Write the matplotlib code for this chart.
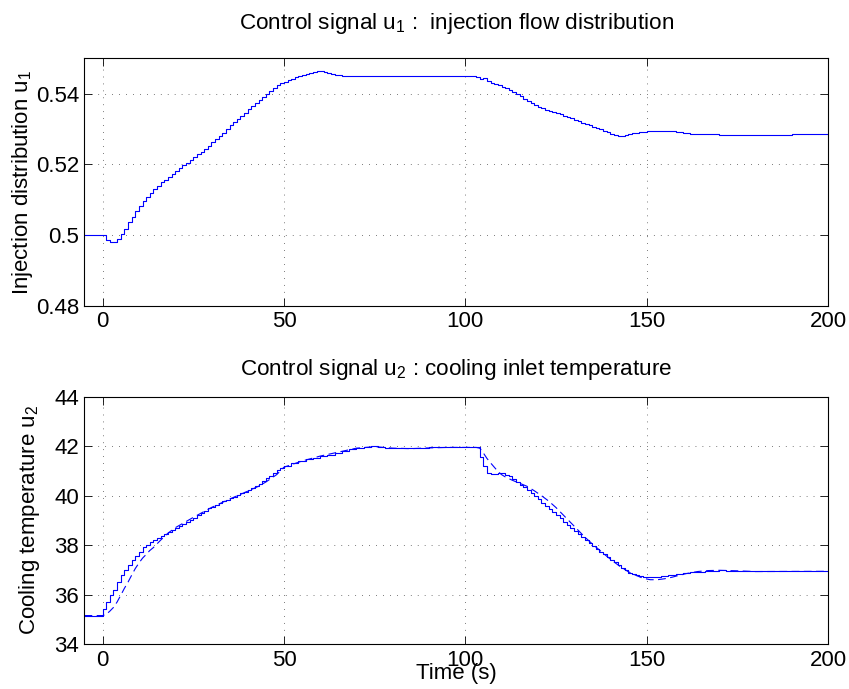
import numpy as np
import matplotlib
matplotlib.use("Agg")
import matplotlib.pyplot as plt
from matplotlib.ticker import FormatStrFormatter

plt.rcParams['font.family'] = ['Liberation Sans', 'DejaVu Sans']
plt.rcParams['mathtext.fontset'] = 'custom'
plt.rcParams['mathtext.rm'] = 'Liberation Sans'
plt.rcParams['mathtext.it'] = 'Liberation Sans:italic'

# ---- u1 : injection flow distribution (sampled every 1 s where it moves) ----
t_u1 = ([-5] + list(range(0, 67)) + [68, 70, 75, 80, 85, 90, 95, 100, 102]
        + list(range(103, 149))
        + [150, 152, 155, 158, 160, 162, 165, 170, 180, 190, 200])
u1 = [0.5000,
      # 0 .. 66
      0.5000, 0.4985, 0.4979, 0.4980, 0.4990, 0.5002, 0.5017, 0.5036, 0.5050, 0.5067,
      0.5082, 0.5097, 0.5108, 0.5120, 0.5131, 0.5140, 0.5149, 0.5157, 0.5165, 0.5173,
      0.5180, 0.5189, 0.5197, 0.5204, 0.5212, 0.5220, 0.5228, 0.5236, 0.5244, 0.5252,
      0.5262, 0.5272, 0.5281, 0.5290, 0.5299, 0.5310, 0.5319, 0.5328, 0.5337, 0.5346,
      0.5356, 0.5365, 0.5373, 0.5382, 0.5390, 0.5399, 0.5408, 0.5416, 0.5424, 0.5429,
      0.5434, 0.5438, 0.5442, 0.5446, 0.5449, 0.5453, 0.5456, 0.5459, 0.5461, 0.5463,
      0.5465, 0.5462, 0.5459, 0.5456, 0.5454, 0.5452, 0.5451,
      # 68 .. 102
      0.5450, 0.5449, 0.5449, 0.5450, 0.5450, 0.5450, 0.5449, 0.5449, 0.5449,
      # 103 .. 148
      0.5446, 0.5441, 0.5443, 0.5436, 0.5431, 0.5428, 0.5424, 0.5420, 0.5415, 0.5411,
      0.5405, 0.5399, 0.5393, 0.5386, 0.5380, 0.5374, 0.5368, 0.5363, 0.5358, 0.5354,
      0.5350, 0.5347, 0.5344, 0.5341, 0.5337, 0.5334, 0.5330, 0.5326, 0.5322, 0.5318,
      0.5315, 0.5311, 0.5307, 0.5303, 0.5299, 0.5295, 0.5291, 0.5286, 0.5282, 0.5279,
      0.5280, 0.5283, 0.5286, 0.5288, 0.5290, 0.5292,
      # 150 .. 200
      0.5293, 0.5294, 0.5293, 0.5291, 0.5289, 0.5287, 0.5285, 0.5284, 0.5284, 0.5285,
      0.5285]

# ---- u2 : cooling inlet temperature, applied (solid, stepped) ----
t_u2 = ([-5] + list(range(0, 51))
        + [52, 54, 56, 58, 60, 62, 64, 66, 68, 70, 72, 74, 76, 78, 80, 85, 90, 95, 100, 103]
        + list(range(104, 151))
        + [152, 154, 156, 158, 160, 162, 164, 166, 168, 170, 172, 175, 180, 190, 200])
u2 = [35.15,
      # 0 .. 50
      35.43, 35.69, 35.97, 36.20, 36.50, 36.78, 37.00, 37.18, 37.38, 37.55,
      37.72, 37.92, 38.02, 38.12, 38.20, 38.27, 38.38, 38.45, 38.52, 38.62,
      38.70, 38.76, 38.84, 38.93, 39.00, 39.11, 39.20, 39.28, 39.38, 39.48,
      39.55, 39.62, 39.70, 39.78, 39.84, 39.90, 39.96, 40.03, 40.09, 40.16,
      40.22, 40.32, 40.40, 40.48, 40.60, 40.70, 40.80, 40.92, 41.04, 41.12,
      41.20,
      # 52 .. 103
      41.30, 41.40, 41.47, 41.54, 41.60, 41.66, 41.74, 41.82, 41.89, 41.94,
      41.97, 42.00, 41.98, 41.94, 41.93, 41.93, 41.95, 41.96, 41.96, 41.96,
      # 104 .. 150
      41.57, 41.19, 40.92, 40.88, 40.87, 40.92, 40.92, 40.83, 40.78, 40.68,
      40.55, 40.45, 40.33, 40.22, 40.10, 39.98, 39.85, 39.72, 39.60, 39.47,
      39.34, 39.21, 39.08, 38.95, 38.82, 38.69, 38.56, 38.44, 38.32, 38.20,
      38.08, 37.96, 37.85, 37.74, 37.63, 37.52, 37.40, 37.30, 37.20, 37.08,
      36.98, 36.88, 36.82, 36.78, 36.75, 36.73, 36.72,
      # 152 .. 200
      36.72, 36.74, 36.78, 36.82, 36.86, 36.90, 36.93, 36.96, 36.97, 36.98,
      36.97, 36.95, 36.94, 36.94, 36.94]

# ---- u2 planned trajectory (dashed) ----
t_u2_ref = [-5, 0, 1, 2, 3, 4, 5, 6, 7, 8, 9, 10, 11, 12, 13, 14, 16, 18, 20, 25,
            30, 35, 40, 43, 45, 48, 50, 55, 60, 65, 70, 75, 80, 85, 90, 95, 100, 103, 104, 105,
            106, 107, 108, 109, 110, 111, 113, 115, 117, 119, 121, 123, 125, 127, 129, 131, 133, 135, 137, 139,
            141, 143, 145, 147, 149, 151, 153, 155, 157, 159, 161, 164, 167, 170, 175, 180, 200]
u2_ref = [35.15, 35.15, 35.20, 35.33, 35.48, 35.70, 35.97, 36.25, 36.50, 36.78,
          37.05, 37.27, 37.47, 37.62, 37.78, 37.90, 38.20, 38.48, 38.70, 39.12,
          39.52, 39.86, 40.18, 40.38, 40.55, 40.85, 41.15, 41.40, 41.60, 41.76,
          41.92, 41.98, 41.92, 41.90, 41.93, 41.95, 41.95, 41.95, 41.92, 41.72,
          41.50, 41.32, 41.15, 40.98, 40.85, 40.76, 40.62, 40.50, 40.38, 40.20,
          40.00, 39.78, 39.52, 39.22, 38.92, 38.62, 38.32, 38.05, 37.80, 37.55,
          37.32, 37.10, 36.92, 36.78, 36.66, 36.60, 36.60, 36.64, 36.70, 36.78,
          36.85, 36.93, 36.97, 36.98, 36.96, 36.93, 36.94]

x_ticks = [0, 50, 100, 150, 200]
u1_ticks = [0.48, 0.5, 0.52, 0.54]
u2_ticks = [34, 36, 38, 40, 42, 44]

FS = 16
blue = (0, 0, 1)

fig = plt.figure(figsize=(8.49, 6.89), dpi=100)
ax1 = fig.add_axes([0.0995, 0.5563, 0.8757, 0.3591])
ax2 = fig.add_axes([0.0995, 0.0653, 0.8757, 0.3589])

ax1.plot(t_u1, u1, color=blue, lw=0.8, drawstyle='steps-post')
ax2.plot(t_u2, u2, color=blue, lw=0.8, drawstyle='steps-post')
ax2.plot(t_u2_ref, u2_ref, color=blue, lw=0.8, dashes=(7, 4))

for ax, yt in ((ax1, u1_ticks), (ax2, u2_ticks)):
    ax.set_xlim(-5, 200)
    ax.set_xticks(x_ticks)
    ax.set_yticks(yt)
    ax.yaxis.set_major_formatter(FormatStrFormatter('%g'))
    ax.tick_params(direction='in', length=5.5, width=0.6, top=True, right=True,
                   labelsize=FS, pad=4)
    ax.grid(True, color='k', lw=0.5, linestyle=(0, (1, 9)))
    for s in ax.spines.values():
        s.set_linewidth(0.8)

ax1.set_ylim(0.48, 0.55)
ax2.set_ylim(34, 44)

ax1.set_title(r'Control signal u$_1$ :  injection flow distribution', fontsize=16.2, pad=21)
ax2.set_title(r'Control signal u$_2$ : cooling inlet temperature', fontsize=16.2, pad=16)

ax1.set_ylabel(r'Injection distribution u$_1$', fontsize=FS)
ax1.yaxis.set_label_coords(-0.067, 0.5)
ax2.set_ylabel(r'Cooling temperature u$_2$', fontsize=FS)
ax2.yaxis.set_label_coords(-0.057, 0.5)

ax2.set_xlabel('Time (s)', fontsize=FS)
ax2.xaxis.set_label_coords(0.5, -0.077)

fig.savefig('out.png', dpi=100)
